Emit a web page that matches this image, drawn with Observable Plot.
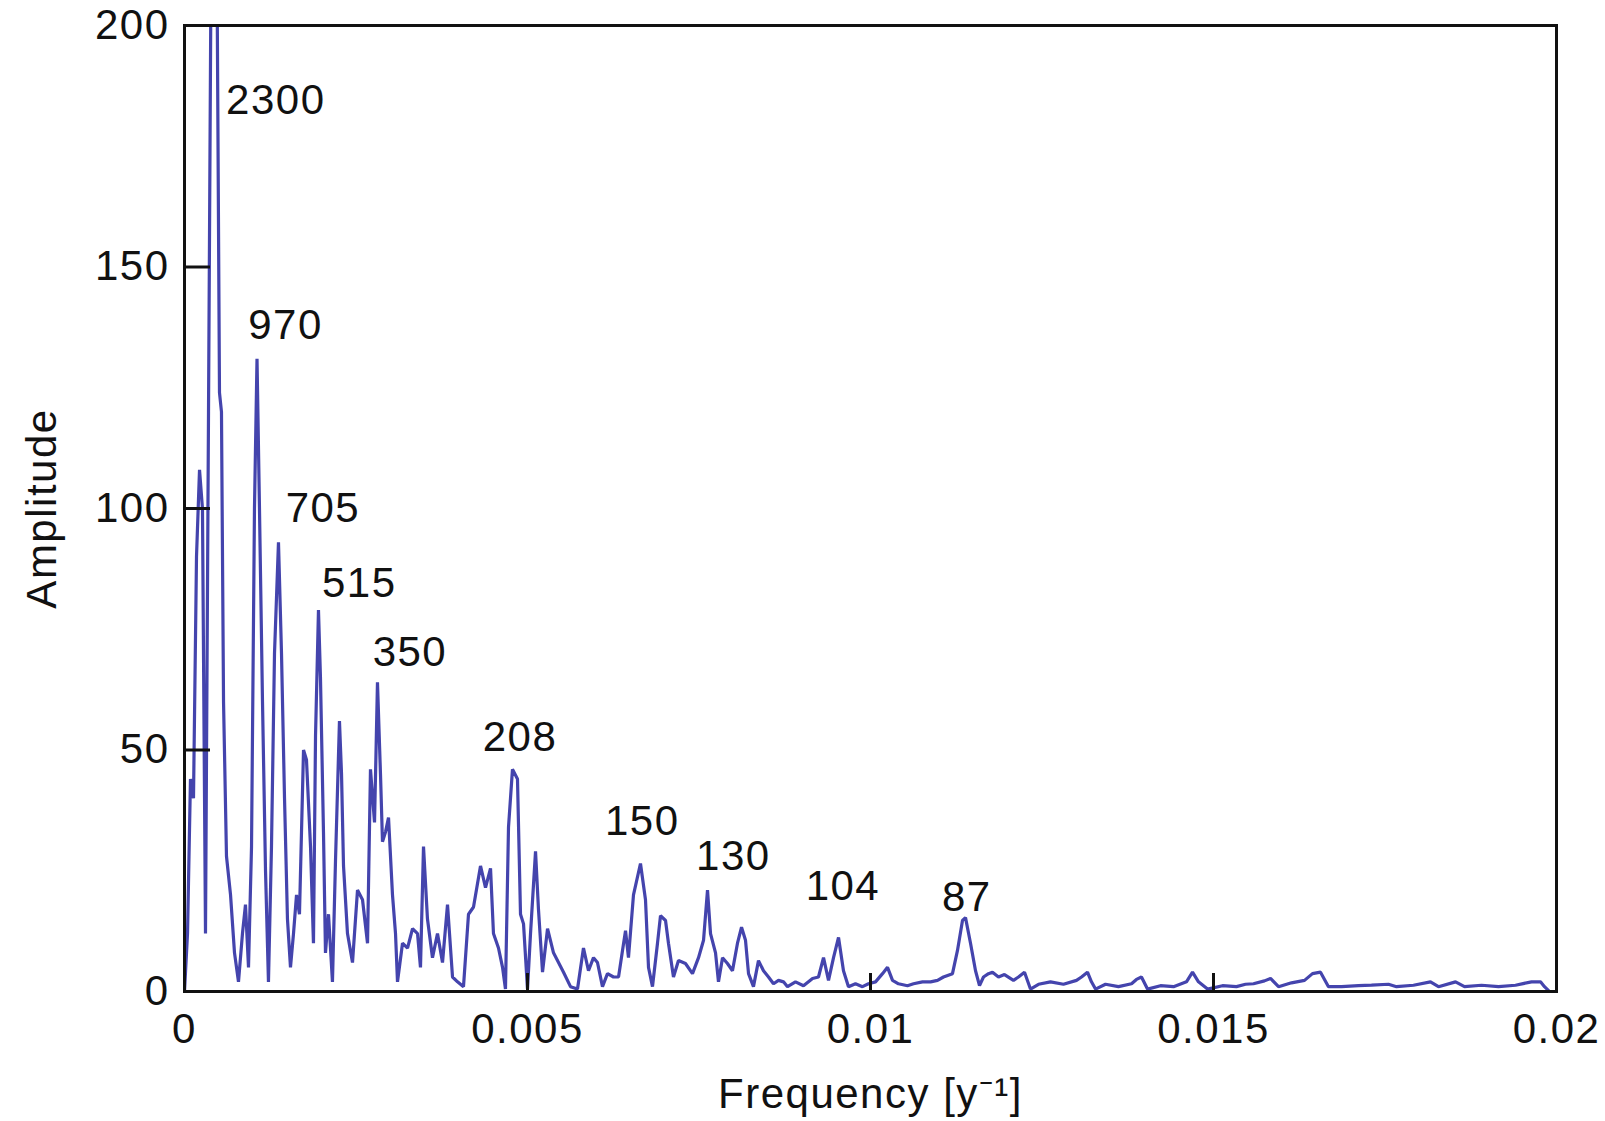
<!DOCTYPE html>
<html><head><meta charset="utf-8">
<script src="https://cdn.jsdelivr.net/npm/d3@7"></script>
<script src="https://cdn.jsdelivr.net/npm/@observablehq/plot@0.6"></script>
<style>html,body{margin:0;padding:0;background:#fff;} svg{display:block}</style>
</head><body><div id="chart"></div>
<script>
// Frequency [1/y]
const freq = [0,0.000044,0.000087,0.000131,0.000175,0.000219,0.000262,0.000306,0.000350,0.000394,0.000466,0.000510,0.000539,0.000569,0.000612,0.000671,0.000729,0.000787,0.000845,0.000889,0.000933,0.000977,0.001020,0.001057,0.001093,0.001137,0.001181,0.001224,0.001268,0.001312,0.001370,0.001414,0.001458,0.001501,0.001545,0.001589,0.001633,0.001676,0.001735,0.001778,0.001837,0.001880,0.001910,0.001953,0.001982,0.002026,0.002055,0.002099,0.002157,0.002201,0.002259,0.002289,0.002318,0.002376,0.002449,0.002522,0.002595,0.002668,0.002711,0.002770,0.002813,0.002857,0.002886,0.002930,0.002974,0.003032,0.003076,0.003105,0.003178,0.003251,0.003324,0.003397,0.003440,0.003484,0.003542,0.003615,0.003688,0.003761,0.003834,0.003907,0.003980,0.004067,0.004140,0.004213,0.004315,0.004388,0.004461,0.004504,0.004577,0.004636,0.004679,0.004723,0.004781,0.004854,0.004898,0.004942,0.005000,0.005044,0.005117,0.005160,0.005219,0.005292,0.005379,0.005452,0.005525,0.005627,0.005729,0.005816,0.005889,0.005962,0.006020,0.006093,0.006166,0.006254,0.006327,0.006385,0.006429,0.006472,0.006545,0.006647,0.006720,0.006764,0.006822,0.006895,0.006939,0.007012,0.007055,0.007128,0.007201,0.007303,0.007405,0.007493,0.007566,0.007624,0.007668,0.007741,0.007784,0.007843,0.007915,0.007988,0.008061,0.008120,0.008178,0.008222,0.008294,0.008367,0.008440,0.008513,0.008586,0.008659,0.008732,0.008790,0.008907,0.009023,0.009155,0.009242,0.009315,0.009388,0.009461,0.009534,0.009606,0.009679,0.009781,0.009883,0.009971,0.010073,0.010175,0.010248,0.010321,0.010408,0.010539,0.010627,0.010758,0.010875,0.010977,0.011064,0.011195,0.011268,0.011341,0.011385,0.011458,0.011531,0.011589,0.011647,0.011720,0.011778,0.011866,0.011953,0.012084,0.012157,0.012245,0.012332,0.012449,0.012624,0.012813,0.013003,0.013076,0.013163,0.013221,0.013280,0.013426,0.013615,0.013805,0.013877,0.013950,0.014038,0.014227,0.014417,0.014606,0.014694,0.014781,0.014913,0.015131,0.015335,0.015466,0.015583,0.015743,0.015831,0.015948,0.016137,0.016327,0.016443,0.016560,0.016676,0.016866,0.017114,0.017303,0.017551,0.017668,0.017915,0.018163,0.018280,0.018528,0.018659,0.018907,0.019155,0.019402,0.019636,0.019767,0.019825,0.019884];
// Amplitude
const amp = [0,12,44,40,90,108,100,12,120,230,230,124,120,60,28,20,8,2,12,18,5,30,100,131,100,60,25,2,30,70,93,70,40,15,5,12,20,16,50,48,30,10,53,79,65,33,8,16,2,27,56,45,26,12,6,21,19,10,46,35,64,45,31,33,36,20,12,2,10,9,13,12,5,30,15,7,12,6,18,3,2,1,16,17.5,26,21.5,25.5,12,9,5,0.5,34,46,44,16,14,0.5,12,29,17,4,13,8,6,4,1,0.5,9,4.3,7,6,1,3.7,3,3,8.5,12.6,7,20,26.5,19,5,1,10,15.7,14.7,10,3,6.4,5.8,3.7,7,10.6,21,12,8,2,7,5.8,4.3,10,13.3,10.6,3.7,1,6.4,4.3,3,1.6,2.3,2,1,2,1.2,2.7,3,7,2.3,7,11.2,4.3,1,1.6,1,1.6,2,3.7,5,2.3,1.6,1.2,1.6,2,2,2.3,3,3.7,8.5,14.7,15.3,10,4.3,1.2,3,3.7,4,3,3.5,2.3,3,4,0.5,1.5,2,1.5,2.3,3,4,2,0.5,1.5,1,1.6,2.5,3,0.5,1.2,1,2,4,2,0.5,1.2,1,1.5,1.6,2.2,2.7,1,1.8,2.3,3.7,4,1,1,1.2,1.3,1.5,1,1.3,2,1,2,1,1.3,1,1.3,2,2,1,0.2];

// Peak period labels (years) and their anchor positions
const peakLabels = ["2300","970","705","515","350","208","150","130","104","87"];
const peakLabelFreq = [0.001331,0.001473,0.002018,0.002548,0.003286,0.004890,0.006673,0.008001,0.009598,0.011404];
const peakLabelAmp = [184.4,137.8,99.9,84.4,70.2,52.6,35.2,28.0,21.7,19.5];

const xTicks = [0,0.005,0.01,0.015,0.02];
const xTickLabels = ["0","0.005","0.01","0.015","0.02"];
const yTicks = [0,50,100,150,200];
const yTickLabels = ["0","50","100","150","200"];
const xLabel = "Frequency [y\u207B\u00B9]";
const yLabel = "Amplitude";

const spectrum = freq.map((f, i) => ({f, a: amp[i]}));
const peaks = peakLabels.map((t, i) => ({t, f: peakLabelFreq[i], a: peakLabelAmp[i]}));

const chart = Plot.plot({
  width: 1605,
  height: 1121,
  marginLeft: 184,
  marginRight: 49,
  marginTop: 25,
  marginBottom: 130,
  style: {fontFamily: "'Liberation Sans', Arial, Helvetica, sans-serif", fontSize: "42px", letterSpacing: "1.5px", background: "#fff", color: "#111", overflow: "hidden"},
  x: {domain: [0, 0.02]},
  y: {domain: [0, 200]},
  marks: [
    Plot.line(spectrum, {x: "f", y: "a", stroke: "#4444ad", strokeWidth: 3.2, strokeLinejoin: "miter", clip: true}),
    Plot.frame({stroke: "#111", strokeWidth: 3}),
    Plot.tickX(xTicks, {x: d => d, insetTop: 948, stroke: "#111", strokeWidth: 3}),
    Plot.tickY(yTicks, {y: d => d, insetRight: 1346, stroke: "#111", strokeWidth: 3}),
    Plot.axisX({ticks: xTicks, tickSize: 0, tickPadding: 22, tickFormat: d => xTickLabels[xTicks.indexOf(d)], label: null, fill: "#111"}),
    Plot.axisY({ticks: yTicks, tickSize: 0, tickPadding: 15, tickFormat: d => yTickLabels[yTicks.indexOf(d)], label: null, fill: "#111"}),
    Plot.text(peaks, {x: "f", y: "a", text: "t", fill: "#111"}),
    Plot.text([yLabel], {frameAnchor: "left", textAnchor: "middle", lineAnchor: "middle", dx: -142, rotate: -90, fill: "#111"}),
    Plot.text([xLabel], {frameAnchor: "bottom", textAnchor: "middle", lineAnchor: "middle", dy: 103, fill: "#111"})
  ]
});
document.getElementById("chart").appendChild(chart);
</script>
</body></html>
